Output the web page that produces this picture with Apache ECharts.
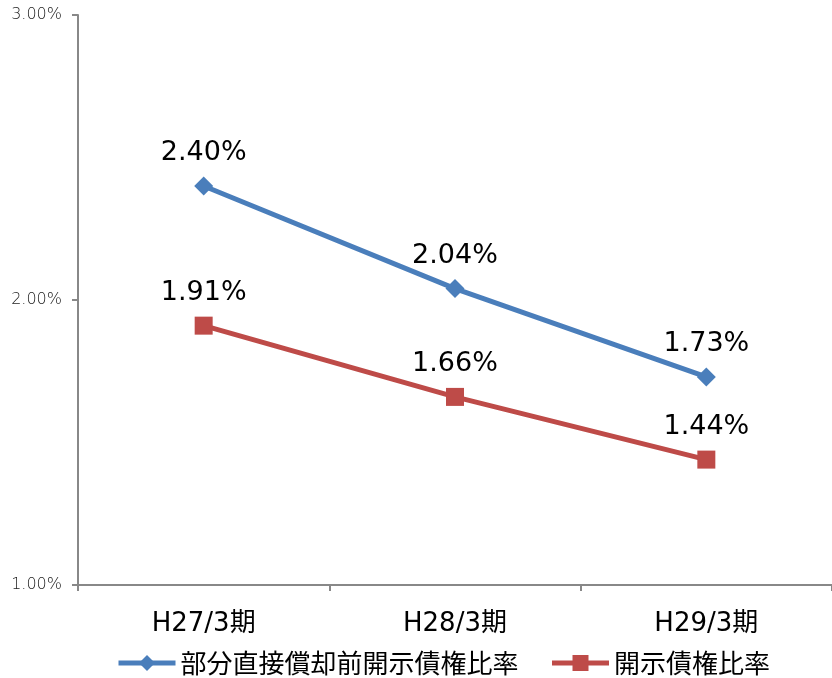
<!DOCTYPE html>
<html lang="ja">
  <head>
    <meta charset="utf-8">
    <title>開示債権比率</title>
    <script src="https://cdn.jsdelivr.net/npm/echarts@6/dist/echarts.min.js"></script>
    <style>
      html, body { margin: 0; padding: 0; background: #fff; }
      #chart { width: 832px; height: 678px; }
    </style>
  </head>
  <body>
    <div id="chart"></div>
    <script type="text/javascript">
      // データ
      var categories = ['H27/3期', 'H28/3期', 'H29/3期'];
      var seriesNames = ['部分直接償却前開示債権比率', '開示債権比率'];
      var beforeWriteOff = [2.40, 2.04, 1.73];
      var disclosedRatio = [1.91, 1.66, 1.44];

      var font = '"DejaVu Sans", "Noto Sans CJK JP", sans-serif';
      var cjkFont = '"Noto Sans CJK JP", sans-serif';
      var chart = echarts.init(document.getElementById('chart'));

      function pct(v) { return v.toFixed(2) + '%'; }

      chart.setOption({
        animation: false,
        grid: { left: 78, top: 15, width: 757, bottom: 93 },
        legend: {
          top: 650,
          left: 116,
          padding: 0,
          itemWidth: 57,
          itemHeight: 20,
          itemGap: 31,
          lineStyle: { width: 5 },
          textStyle: { fontSize: 26, color: '#000', fontFamily: cjkFont },
          data: seriesNames
        },
        xAxis: {
          type: 'category',
          data: categories,
          axisLine: { lineStyle: { color: '#888888', width: 2 } },
          axisTick: { show: true, length: 6, lineStyle: { color: '#888888', width: 2 } },
          axisLabel: { fontSize: 26, color: '#000', margin: 26, fontFamily: font }
        },
        yAxis: {
          type: 'value',
          min: 1,
          max: 3,
          interval: 1,
          splitLine: { show: false },
          axisLine: { show: true, lineStyle: { color: '#888888', width: 2 } },
          axisTick: { show: true, length: 6, lineStyle: { color: '#888888', width: 2 } },
          axisLabel: {
            fontSize: 16,
            fontWeight: 300,
            color: '#222',
            margin: 16,
            fontFamily: font,
            formatter: pct
          }
        },
        series: [
          {
            name: seriesNames[0],
            type: 'line',
            data: beforeWriteOff,
            symbol: 'diamond',
            symbolSize: 19,
            lineStyle: { color: '#4a7ebb', width: 5 },
            itemStyle: { color: '#4a7ebb' },
            label: {
              show: true,
              position: 'top',
              distance: 10,
              fontSize: 27,
              color: '#000',
              fontFamily: font,
              formatter: function (p) { return pct(p.value); }
            }
          },
          {
            name: seriesNames[1],
            type: 'line',
            data: disclosedRatio,
            symbol: 'rect',
            symbolSize: 18,
            lineStyle: { color: '#be4b48', width: 5 },
            itemStyle: { color: '#be4b48' },
            label: {
              show: true,
              position: 'top',
              distance: 10,
              fontSize: 27,
              color: '#000',
              fontFamily: font,
              formatter: function (p) { return pct(p.value); }
            }
          }
        ]
      });
    </script>
  </body>
</html>
